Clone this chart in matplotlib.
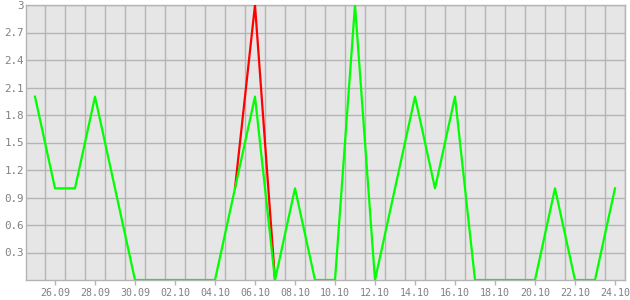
import numpy as np
import pandas as pd
import matplotlib
matplotlib.use('Agg')
import matplotlib.pyplot as plt
import matplotlib.dates as mdates

# Data (one value per day starting 25.09)
start_date = '2023-09-25'
green_values = [2, 1, 1, 2, 1, 0, 0, 0, 0, 0,
                1, 2, 0, 1, 0, 0, 3, 0, 1, 2,
                1, 2, 0, 0, 0, 0, 1, 0, 0, 1]
red_values = [np.nan] * 10 + [1, 3, 0] + [np.nan] * 17
y_ticks = [0.3, 0.6, 0.9, 1.2, 1.5, 1.8, 2.1, 2.4, 2.7, 3.0]
y_labels = ['0.3', '0.6', '0.9', '1.2', '1.5', '1.8', '2.1', '2.4', '2.7', '3']

dates = pd.date_range(start_date, periods=len(green_values), freq='D')

fig = plt.figure(figsize=(6.3, 3.0), dpi=100)
ax = fig.add_axes([26 / 630, 20 / 300, 599 / 630, 275 / 300])
ax.set_facecolor('#e6e6e6')

grid_col = '#b4b4b4'
text_col = '#808080'

# Lines
ax.plot(dates, red_values, color='#ff0000', lw=1.6, zorder=3)
ax.plot(dates, green_values, color='#00ff00', lw=1.6, zorder=4)

# Axes limits
ax.set_xlim(dates[0] - pd.Timedelta(hours=10.8), dates[-1] + pd.Timedelta(hours=12))
ax.set_ylim(0, 3)

# X ticks every second day, grid at half days
ax.set_xticks(dates[1::2])
ax.xaxis.set_major_formatter(mdates.DateFormatter('%d.%m'))
ax.set_xticks(dates + pd.Timedelta(hours=12), minor=True)
ax.grid(True, which='minor', axis='x', color=grid_col, lw=1)
ax.tick_params(axis='x', which='minor', length=0)
ax.tick_params(axis='x', which='major', length=3.6, width=1, color=grid_col,
               pad=2.5, labelsize=7.2, labelcolor=text_col)

# Y ticks
ax.set_yticks(y_ticks)
ax.set_yticklabels(y_labels)
ax.grid(True, which='major', axis='y', color=grid_col, lw=1)
ax.tick_params(axis='y', length=0, pad=1.5, labelsize=7.8, labelcolor=text_col)

for lab in ax.get_xticklabels() + ax.get_yticklabels():
    lab.set_family('DejaVu Sans Mono')

for s in ax.spines.values():
    s.set_color(grid_col)
    s.set_linewidth(1)

ax.set_axisbelow(True)

fig.savefig('out.png', dpi=100, facecolor='white')
